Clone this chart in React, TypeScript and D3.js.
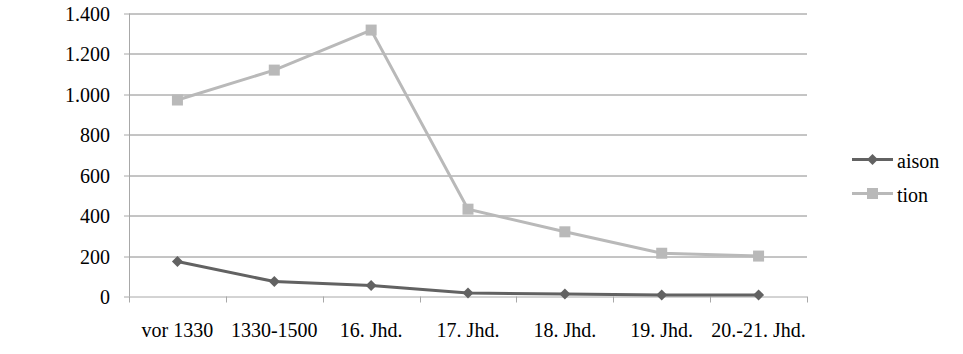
import * as d3 from "d3"

const categories = ["vor 1330", "1330-1500", "16. Jhd.", "17. Jhd.", "18. Jhd.", "19. Jhd.", "20.-21. Jhd."]
const aisonValues = [173, 74, 54, 17, 12, 8, 8]
const tionValues = [972, 1120, 1318, 432, 320, 214, 200]
const yTicks = [0, 200, 400, 600, 800, 1000, 1200, 1400]

const fmt = (v: number) => d3.format(",")(v).replace(/,/g, ".")

const W = 963
const H = 354
const margin = { top: 13.5, left: 129, right: 156, bottom: 57.5 }
const FONT = "Liberation Serif"

function Marker({ x, y, kind, color }: { x: number; y: number; kind: string; color: string }) {
  if (kind === "square") return <rect x={x - 5.5} y={y - 5.5} width={11} height={11} fill={color} />
  return <path d={`M${x},${y - 5.5}L${x + 5.5},${y}L${x},${y + 5.5}L${x - 5.5},${y}Z`} fill={color} />
}

export default function App() {
  const width = W - margin.left - margin.right
  const height = H - margin.top - margin.bottom

  const x = d3.scaleBand().domain(categories).range([0, width])
  const y = d3.scaleLinear().domain([0, 1400]).range([height, 0])
  const cx = (i: number) => (x(categories[i]) || 0) + x.bandwidth() / 2

  const line = d3
    .line<number>()
    .x((_, i) => cx(i))
    .y((d) => y(d))

  const series = [
    { name: "aison", values: aisonValues, color: "#626262", marker: "diamond" },
    { name: "tion", values: tionValues, color: "#b9b9b9", marker: "square" },
  ]

  const axisColor = "#a8a8a8"

  return (
    <svg
      width={W}
      height={H}
      style={{ position: "absolute", left: 0, top: 0, background: "#fff", display: "block" }}
      fontFamily={FONT}
      fontSize={20}
    >
      <g transform={`translate(${margin.left},${margin.top})`}>
        {/* gridlines */}
        {yTicks
          .filter((t) => t > 0)
          .map((t) => (
            <line key={t} x1={0} x2={width} y1={Math.round(y(t)) + 0.5} y2={Math.round(y(t)) + 0.5} stroke="#8a8a8a" />
          ))}

        {/* y axis */}
        <line x1={0.5} x2={0.5} y1={0} y2={height} stroke={axisColor} />
        {yTicks.map((t) => (
          <g key={t} transform={`translate(0,${Math.round(y(t)) + 0.5})`}>
            <line x1={-5} x2={0} stroke={axisColor} />
            <text x={-19} y={7} textAnchor="end" fill="#000">
              {fmt(t)}
            </text>
          </g>
        ))}

        {/* x axis */}
        <line x1={0} x2={width} y1={height + 0.5} y2={height + 0.5} stroke={axisColor} />
        {d3.range(categories.length + 1).map((i) => (
          <line
            key={i}
            x1={Math.round(i * x.step()) + 0.5}
            x2={Math.round(i * x.step()) + 0.5}
            y1={height}
            y2={height + 6}
            stroke={axisColor}
          />
        ))}
        {categories.map((c, i) => (
          <text key={c} x={cx(i)} y={height + 40} textAnchor="middle" fill="#000">
            {c}
          </text>
        ))}

        {/* series */}
        {series.map((s) => (
          <g key={s.name}>
            <path d={line(s.values) || ""} fill="none" stroke={s.color} strokeWidth={3} />
            {s.values.map((v, i) => (
              <Marker key={i} x={cx(i)} y={y(v)} kind={s.marker} color={s.color} />
            ))}
          </g>
        ))}
      </g>

      {/* legend */}
      {series.map((s, i) => (
        <g key={s.name} transform={`translate(852,${159.5 + i * 34})`}>
          <line x1={0} x2={41} y1={0} y2={0} stroke={s.color} strokeWidth={3} />
          <Marker x={20.5} y={0} kind={s.marker} color={s.color} />
          <text x={45} y={8.5} fill="#000">
            {s.name}
          </text>
        </g>
      ))}
    </svg>
  )
}
